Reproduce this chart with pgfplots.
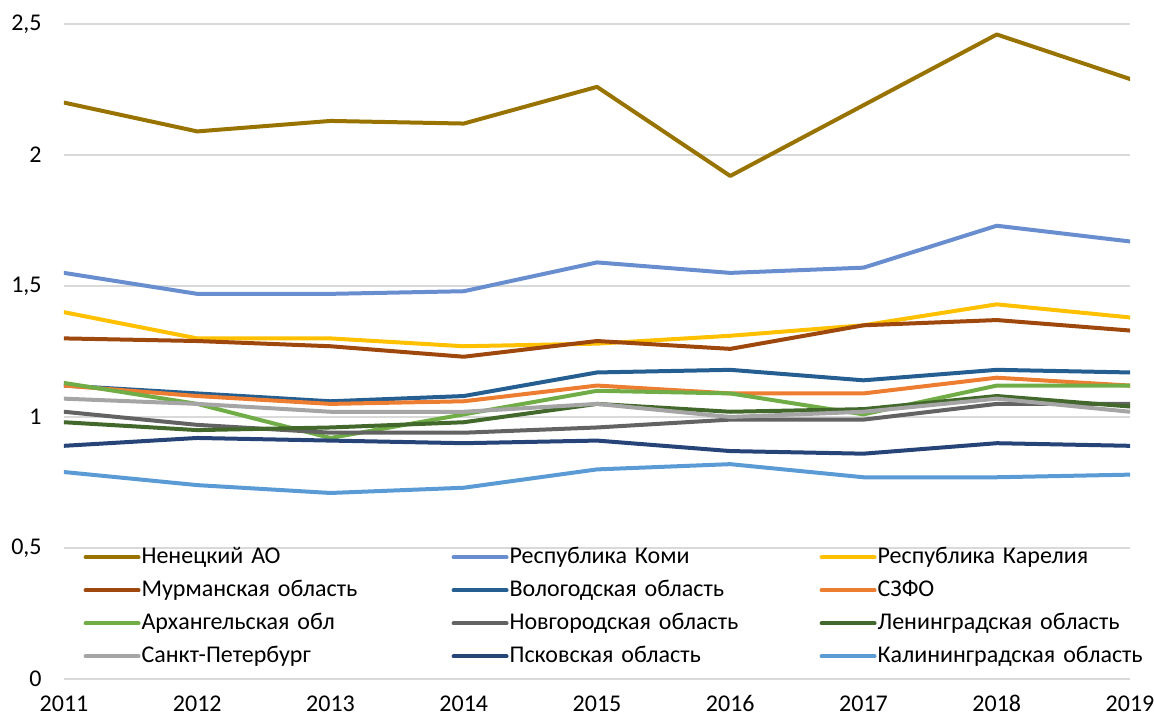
\documentclass[border=0pt]{standalone}
\usepackage{fontspec}
\setmainfont{Carlito}
\usepackage{pgfplots}
\pgfplotsset{compat=1.18}
\definecolor{cNen}{HTML}{997300}
\definecolor{cKomi}{HTML}{698ED0}
\definecolor{cKar}{HTML}{FFC000}
\definecolor{cMur}{HTML}{9E480E}
\definecolor{cVol}{HTML}{255E91}
\definecolor{cSZ}{HTML}{ED7D31}
\definecolor{cArh}{HTML}{70AD47}
\definecolor{cNov}{HTML}{636363}
\definecolor{cLen}{HTML}{43682B}
\definecolor{cSpb}{HTML}{A5A5A5}
\definecolor{cPsk}{HTML}{264478}
\definecolor{cKal}{HTML}{5B9BD5}
\definecolor{cGrid}{HTML}{D9D9D9}
\begin{document}
\fontsize{12pt}{14pt}\selectfont
\begin{tikzpicture}
\useasboundingbox (-32pt,-19pt) rectangle (545pt,339.5pt);
\begin{axis}[
  scale only axis,
  width=533pt, height=327.5pt,
  xmin=2011, xmax=2019, ymin=0, ymax=2.5,
  enlargelimits=false,
  xtick={2011,2012,2013,2014,2015,2016,2017,2018,2019},
  xticklabels={2011,2012,2013,2014,2015,2016,2017,2018,2019},
  ytick={0,0.5,1,1.5,2,2.5},
  yticklabels={0,{0,5},1,{1,5},2,{2,5}},
  axis line style={draw=none},
  tick style={draw=none},
  ymajorgrids,
  major grid style={color=cGrid, line width=0.75pt},
  yticklabel style={anchor=east, inner sep=0pt, xshift=-11pt},
  xticklabel style={anchor=base, inner sep=0pt, yshift=-16.3pt},
  every axis plot/.append style={line width=2pt, line join=round, line cap=round, no markers},
  legend columns=3,
  legend cell align=left,
  legend image code/.code={\draw[#1] (0pt,0pt) -- (26.5pt,0pt);},
  legend style={
    draw=none, fill=none, inner sep=0pt,
    at={(0.018,0.017)}, anchor=south west,
    column sep=0pt, row sep=5.5pt,
    /tikz/every odd column/.append style={column sep=0.5pt},
    nodes={text width=155pt, align=left, inner sep=0pt, text height=8.5pt, text depth=2.5pt},
  },
]
\addplot[cNen] coordinates {(2011,2.20)(2012,2.09)(2013,2.13)(2014,2.12)(2015,2.26)(2016,1.92)(2017,2.19)(2018,2.46)(2019,2.29)};
\addlegendentry{Ненецкий АО}
\addplot[cKomi] coordinates {(2011,1.55)(2012,1.47)(2013,1.47)(2014,1.48)(2015,1.59)(2016,1.55)(2017,1.57)(2018,1.73)(2019,1.67)};
\addlegendentry{Республика Коми}
\addplot[cKar] coordinates {(2011,1.40)(2012,1.30)(2013,1.30)(2014,1.27)(2015,1.28)(2016,1.31)(2017,1.35)(2018,1.43)(2019,1.38)};
\addlegendentry{Республика Карелия}
\addplot[cMur] coordinates {(2011,1.30)(2012,1.29)(2013,1.27)(2014,1.23)(2015,1.29)(2016,1.26)(2017,1.35)(2018,1.37)(2019,1.33)};
\addlegendentry{Мурманская область}
\addplot[cVol] coordinates {(2011,1.12)(2012,1.09)(2013,1.06)(2014,1.08)(2015,1.17)(2016,1.18)(2017,1.14)(2018,1.18)(2019,1.17)};
\addlegendentry{Вологодская область}
\addplot[cSZ] coordinates {(2011,1.12)(2012,1.08)(2013,1.05)(2014,1.06)(2015,1.12)(2016,1.09)(2017,1.09)(2018,1.15)(2019,1.12)};
\addlegendentry{СЗФО}
\addplot[cArh] coordinates {(2011,1.13)(2012,1.05)(2013,0.92)(2014,1.01)(2015,1.10)(2016,1.09)(2017,1.01)(2018,1.12)(2019,1.12)};
\addlegendentry{Архангельская обл}
\addplot[cNov] coordinates {(2011,1.02)(2012,0.97)(2013,0.94)(2014,0.94)(2015,0.96)(2016,0.99)(2017,0.99)(2018,1.05)(2019,1.05)};
\addlegendentry{Новгородская область}
\addplot[cLen] coordinates {(2011,0.98)(2012,0.95)(2013,0.96)(2014,0.98)(2015,1.05)(2016,1.02)(2017,1.03)(2018,1.08)(2019,1.04)};
\addlegendentry{Ленинградская область}
\addplot[cSpb] coordinates {(2011,1.07)(2012,1.05)(2013,1.02)(2014,1.02)(2015,1.05)(2016,1.00)(2017,1.02)(2018,1.07)(2019,1.02)};
\addlegendentry{Санкт-Петербург}
\addplot[cPsk] coordinates {(2011,0.89)(2012,0.92)(2013,0.91)(2014,0.90)(2015,0.91)(2016,0.87)(2017,0.86)(2018,0.90)(2019,0.89)};
\addlegendentry{Псковская область}
\addplot[cKal] coordinates {(2011,0.79)(2012,0.74)(2013,0.71)(2014,0.73)(2015,0.80)(2016,0.82)(2017,0.77)(2018,0.77)(2019,0.78)};
\addlegendentry{Калининградская область}
\end{axis}
\end{tikzpicture}
\end{document}
